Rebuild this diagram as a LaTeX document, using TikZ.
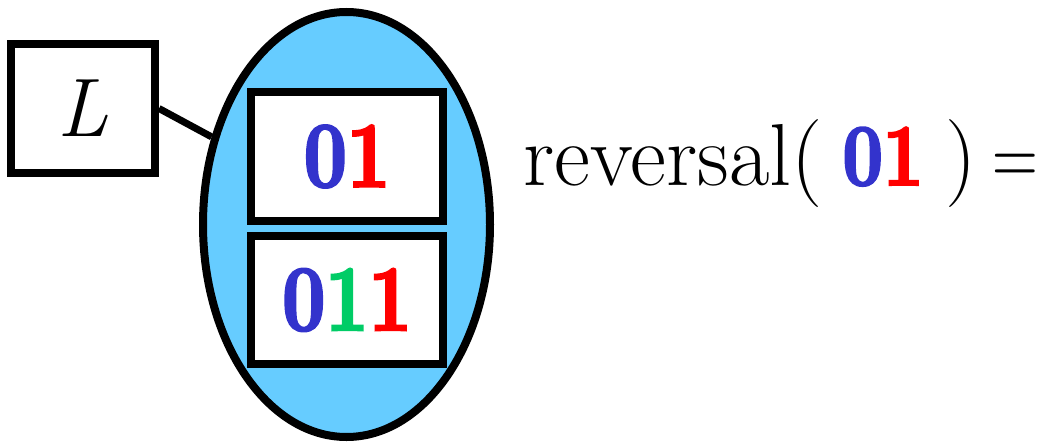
\documentclass[tikz,border=0pt]{standalone}
\usepackage{fontspec}
\newfontfamily\bdig{lmroman10-bold.otf}[FakeStretch=0.8, FakeBold=2.5]
\newfontfamily\narrowrm{Latin Modern Roman}[FakeStretch=0.72]
\usetikzlibrary{shapes.geometric}
\definecolor{dblue}{HTML}{3333CC}
\definecolor{dred}{HTML}{FF0000}
\definecolor{dgreen}{HTML}{00CC66}
\definecolor{sky}{HTML}{66CCFF}
\newcommand{\dz}{{\bdig\color{dblue}0}}
\newcommand{\dred}{{\bdig\color{dred}1}}
\newcommand{\dgr}{{\bdig\color{dgreen}1}}
\begin{document}
\begin{tikzpicture}[x=1pt,y=-1pt,
  thick box/.style={draw=black, line width=7.5pt, fill=white, inner sep=0pt},
  setbox/.style={ellipse, draw=black, line width=8pt, fill=sky, inner sep=0pt}]
\useasboundingbox (0,0) rectangle (1055,444);
\node[setbox, minimum width=287pt, minimum height=425pt] (E) at (346.5,224.5) {};
\node[thick box, line width=8pt, minimum width=144pt, minimum height=129pt,
      font=\fontsize{83}{90}\selectfont\itshape] (L) at (83,108.5) {L};
\draw[line width=7pt] (L.east) -- (E.147);
\node[thick box, minimum width=192pt, minimum height=129pt,
      font=\fontsize{94}{98}\selectfont] (A) at (347,156.5) {\dz\dred};
\node[thick box, minimum width=192pt, minimum height=128pt,
      font=\fontsize{94}{98}\selectfont] (B) at (347,300) {\dz\dgr\dred};
\node[anchor=base west, inner sep=0pt, font=\fontsize{88}{92}\selectfont] (R) at (523,185)
  {reversal(\hspace{20pt}\dz\dred\hspace{22pt})\hspace{16pt}{\narrowrm =}};
\end{tikzpicture}
\end{document}
